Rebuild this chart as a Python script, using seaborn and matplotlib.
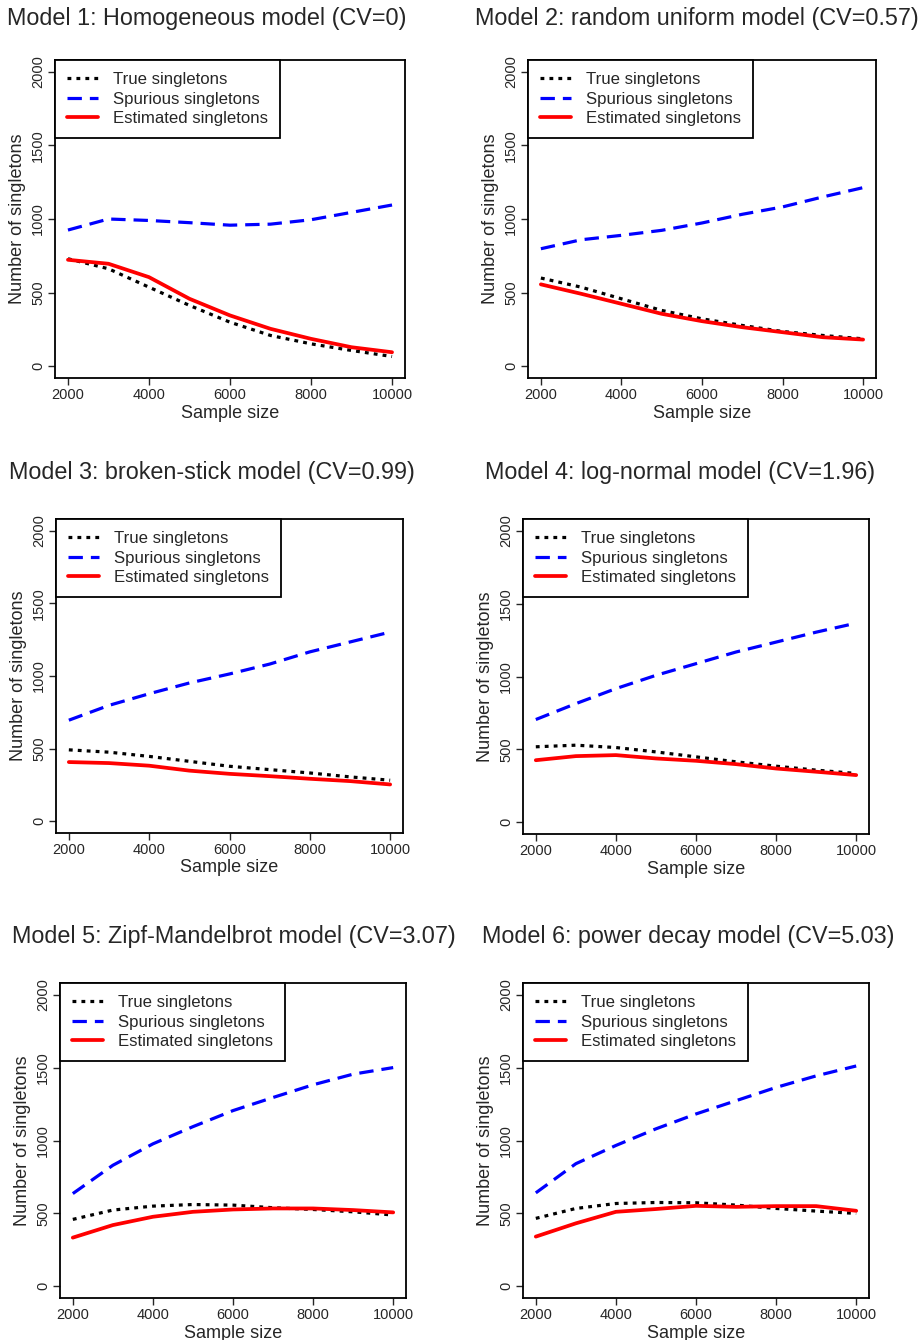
import pandas as pd
import seaborn as sns
import matplotlib.pyplot as plt

# sample sizes (x axis), same for every panel
sample_size = [2000, 3000, 4000, 5000, 6000, 7000, 8000, 9000, 10000]

titles = [
    "Model 1: Homogeneous model (CV=0)",
    "Model 2: random uniform model (CV=0.57)",
    "Model 3: broken-stick model (CV=0.99)",
    "Model 4: log-normal model (CV=1.96)",
    "Model 5: Zipf-Mandelbrot model (CV=3.07)",
    "Model 6: power decay model (CV=5.03)",
]

series_names = ["True singletons", "Spurious singletons", "Estimated singletons"]

# values
true_m1 = [730, 662, 537, 413, 299, 209, 152, 107, 66]
spur_m1 = [925, 1000, 990, 975, 958, 965, 995, 1045, 1095]
est_m1 = [723, 696, 605, 458, 345, 254, 186, 129, 95]

true_m2 = [599, 537, 458, 379, 322, 277, 236, 209, 186]
spur_m2 = [798, 859, 889, 923, 973, 1032, 1082, 1150, 1213]
est_m2 = [556, 492, 424, 356, 306, 265, 231, 197, 181]

true_m3 = [492, 476, 447, 413, 379, 356, 333, 306, 283]
spur_m3 = [696, 798, 878, 952, 1014, 1082, 1166, 1234, 1302]
est_m3 = [408, 401, 383, 349, 327, 311, 293, 277, 254]

true_m4 = [518, 529, 513, 483, 449, 415, 385, 358, 335]
spur_m4 = [705, 814, 917, 1008, 1088, 1168, 1236, 1304, 1366]
est_m4 = [426, 454, 461, 438, 422, 399, 369, 347, 324]

true_m5 = [459, 523, 550, 561, 557, 539, 527, 511, 489]
spur_m5 = [636, 830, 977, 1095, 1205, 1295, 1382, 1455, 1500]
est_m5 = [334, 420, 477, 511, 527, 534, 534, 523, 507]

true_m6 = [466, 534, 568, 575, 573, 557, 534, 516, 500]
spur_m6 = [641, 841, 966, 1080, 1182, 1273, 1364, 1443, 1511]
est_m6 = [341, 432, 511, 530, 552, 545, 550, 550, 518]

models = [
    (true_m1, spur_m1, est_m1),
    (true_m2, spur_m2, est_m2),
    (true_m3, spur_m3, est_m3),
    (true_m4, spur_m4, est_m4),
    (true_m5, spur_m5, est_m5),
    (true_m6, spur_m6, est_m6),
]

sns.set_style("white")
plt.rcParams["font.family"] = ["Liberation Sans", "DejaVu Sans"]

W, H = 921, 1340
fig = plt.figure(figsize=(W / 100, H / 100), dpi=100)

# axes boxes in pixels: left, top, right, bottom
boxes = [(55, 60, 405, 378), (528, 60, 876, 378),
         (56, 519, 403, 833), (523, 519, 869, 834),
         (60, 983, 406, 1298), (523, 983, 869, 1298)]
title_pos = [(7, 18), (475, 18), (9, 473), (485, 473), (12, 936), (482, 936)]

styles = [
    dict(color="black", lw=2.3, linestyle=(0, (1.2, 1.6))),
    dict(color="#0000FF", lw=2.3, linestyle=(0, (4.5, 2.5))),
    dict(color="#FF0000", lw=2.7, linestyle="-"),
]

for i, (l, t, r, b) in enumerate(boxes):
    ax = fig.add_axes([l / W, 1 - b / H, (r - l) / W, (b - t) / H])
    for name, vals, st in zip(series_names, models[i], styles):
        df = pd.DataFrame({"Sample size": sample_size, "n": vals})
        sns.lineplot(data=df, x="Sample size", y="n", ax=ax, label=name, **st)

    ax.set_xlim(1680, 10320)
    ax.set_ylim(-80, 2080)
    ax.set_xticks([2000, 4000, 6000, 8000, 10000])
    ax.set_yticks([0, 500, 1000, 1500, 2000])
    ax.tick_params(axis="both", direction="out", length=5, width=1, labelsize=10.5,
                   bottom=True, left=True, pad=2)
    ax.tick_params(axis="y", labelrotation=90)
    for lab in ax.get_yticklabels():
        lab.set_va("center")
    ax.set_xlabel("Sample size", fontsize=13, labelpad=2)
    ax.set_ylabel("Number of singletons", fontsize=13, labelpad=4)
    for s in ax.spines.values():
        s.set_color("black")
        s.set_linewidth(1.3)

    leg = ax.legend(loc="upper left", borderaxespad=0, fancybox=False,
                    edgecolor="black", framealpha=1, fontsize=12.1,
                    handlelength=1.85, handletextpad=0.9, borderpad=0.72,
                    labelspacing=0.27)
    leg.get_frame().set_linewidth(1.3)

    x0, y0 = title_pos[i]
    fig.text(x0 / W, 1 - y0 / H, titles[i], ha="left", va="center", fontsize=16.8)

fig.savefig("out.png", dpi=100)
